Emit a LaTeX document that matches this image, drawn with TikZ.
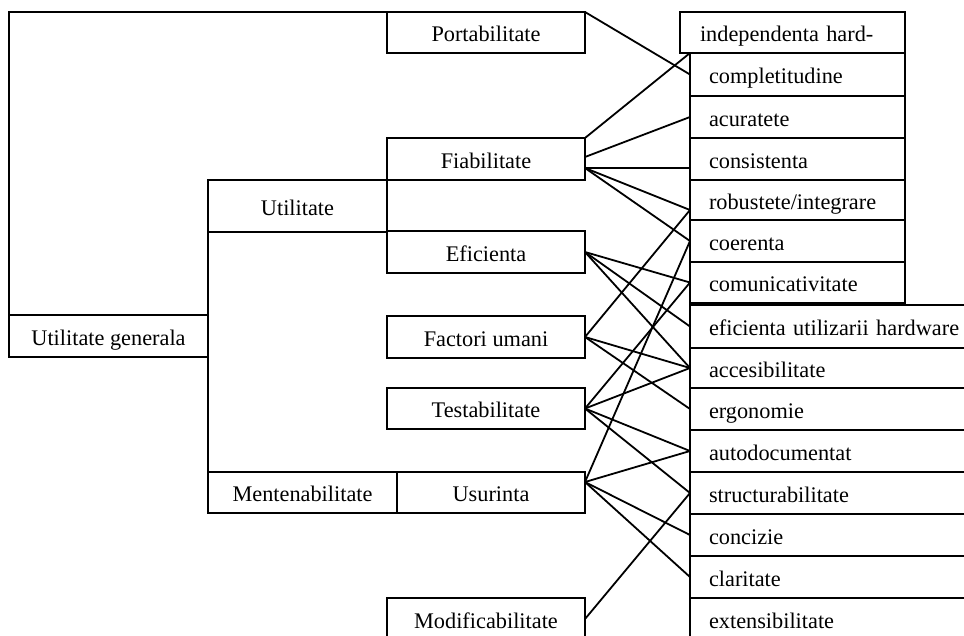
\documentclass[tikz,border=0pt]{standalone}
\usepackage{fontspec}
\setmainfont{Liberation Serif}
\begin{document}
\begin{tikzpicture}[x=1pt,y=-1pt,line width=2pt,
  lbl/.style={font=\fontsize{22.3}{26}\selectfont, text height=22pt, text depth=4pt},
  box/.style={draw, lbl, inner sep=0pt, outer sep=0pt, anchor=north west},
  cbox/.style 2 args={box, minimum width=#1, minimum height=#2},
  rbox/.style 2 args={box, align=left, inner xsep=19pt, text width=#1-38pt, minimum height=#2},
  link/.style={line width=1.8pt}]
\useasboundingbox (0,0) rectangle (964,635);
\clip (0,0) rectangle (964,635);

% left part of the tree
\node[cbox={199pt}{42pt}] (ug)    at (9,315)   {Utilitate generala};
\node[cbox={179pt}{52pt}] (util)  at (208,180) {Utilitate};
\node[cbox={189pt}{41pt}] (mente) at (208,472) {Mentenabilitate};

% criteria column
\node[cbox={198pt}{41pt}] (port) at (387,12)  {Portabilitate};
\node[cbox={198pt}{42pt}] (fiab) at (387,138) {Fiabilitate};
\node[cbox={198pt}{42pt}] (eff)  at (387,231) {Eficienta};
\node[cbox={198pt}{42pt}] (fact) at (387,316) {Factori umani};
\node[cbox={198pt}{41pt}] (test) at (387,388) {Testabilitate};
\node[cbox={188pt}{41pt}] (usur) at (397,472) {Usurinta};
\node[cbox={198pt}{42pt}] (modi) at (387,598) {Modificabilitate};

% attributes column
\node[box, align=left, inner xsep=20pt, text width=185pt, minimum height=41pt] (indep) at (680,12) {independenta hard-};
\node[rbox={215pt}{43pt}] (comp) at (690,53)  {completitudine};
\node[rbox={215pt}{42pt}] (acur) at (690,96)  {acuratete};
\node[rbox={215pt}{42pt}] (cons) at (690,138) {consistenta};
\node[rbox={215pt}{40pt}] (robu) at (690,180) {robustete/integrare};
\node[rbox={215pt}{42pt}] (coer) at (690,220) {coerenta};
\node[rbox={215pt}{41pt}] (comu) at (690,262) {comunicativitate};
\node[rbox={310pt}{43pt}] (efic) at (690,305) {eficienta utilizarii hardware};
\node[rbox={310pt}{40pt}] (acce) at (690,348) {accesibilitate};
\node[rbox={310pt}{42pt}] (ergo) at (690,388) {ergonomie};
\node[rbox={310pt}{42pt}] (auto) at (690,430) {autodocumentat};
\node[rbox={310pt}{42pt}] (stru) at (690,472) {structurabilitate};
\node[rbox={310pt}{42pt}] (conc) at (690,514) {concizie};
\node[rbox={310pt}{42pt}] (clar) at (690,556) {claritate};
\node[rbox={310pt}{42pt}] (exte) at (690,598) {extensibilitate};

% tree branches
\draw (ug.north west) |- (port.north west);
\draw (util.south west) -- (mente.north west);

% connection points off the box centres
\coordinate (fiabA) at ([yshift=2pt]fiab.east);
\coordinate (fiabB) at ([yshift=-9pt]fiab.east);
\coordinate (consP) at ([yshift=-9pt]cons.west);
\coordinate (robuP) at ([yshift=-10pt]robu.west);
\coordinate (usurP) at ([yshift=10.5pt]usur.east);

% criteria to attributes
\draw[link] (port.north east) -- (comp.west);
\draw[link] (fiab.north east) -- (comp.north west);
\draw[link] (fiabA) -- (acur.west);
\draw[link] (fiabB) -- (consP);
\draw[link] (fiabB) -- (robuP);
\draw[link] (fiabB) -- (coer.west);
\draw[link] (eff.east) -- (comu.west);
\draw[link] (eff.east) -- (efic.west);
\draw[link] (eff.east) -- (acce.west);
\draw[link] (fact.east) -- (robuP);
\draw[link] (fact.east) -- (acce.west);
\draw[link] (fact.east) -- (ergo.west);
\draw[link] (test.east) -- (comu.west);
\draw[link] (test.east) -- (acce.west);
\draw[link] (test.east) -- (auto.west);
\draw[link] (test.east) -- (stru.west);
\draw[link] (usurP) -- (coer.west);
\draw[link] (usurP) -- (auto.west);
\draw[link] (usurP) -- (conc.west);
\draw[link] (usurP) -- (clar.west);
\draw[link] (modi.east) -- (stru.west);
\end{tikzpicture}
\end{document}
